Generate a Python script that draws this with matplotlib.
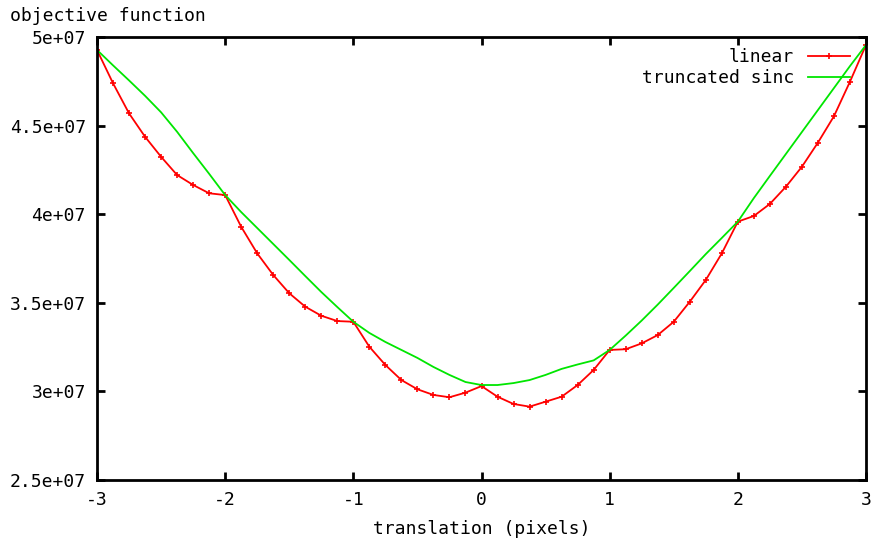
import numpy as np
import matplotlib
matplotlib.use("Agg")
import matplotlib.pyplot as plt

plt.rcParams['font.family'] = 'DejaVu Sans Mono'
plt.rcParams['axes.unicode_minus'] = False

# shift in pixels, step 1/8
shift = np.arange(-3, 3.0001, 0.125)

# objective function, units of 1e7
linear = [4.927, 4.739, 4.569, 4.437, 4.324, 4.221, 4.165, 4.118,
          4.108, 3.929, 3.779, 3.657, 3.554, 3.478, 3.427, 3.397,
          3.393, 3.252, 3.149, 3.064, 3.012, 2.980, 2.967, 2.993,
          3.030, 2.970, 2.929, 2.914, 2.942, 2.970, 3.036, 3.121,
          3.234, 3.238, 3.271, 3.318, 3.393, 3.506, 3.629, 3.779,
          3.958, 3.990, 4.058, 4.155, 4.268, 4.404, 4.553, 4.748,
          4.955]
sinc = [4.927, 4.840, 4.755, 4.668, 4.575, 4.465, 4.345, 4.228,
        4.108, 4.012, 3.922, 3.832, 3.742, 3.651, 3.561, 3.476,
        3.393, 3.330, 3.279, 3.234, 3.189, 3.138, 3.093, 3.053,
        3.036, 3.036, 3.047, 3.064, 3.093, 3.127, 3.152, 3.175,
        3.234, 3.315, 3.400, 3.490, 3.584, 3.679, 3.775, 3.866,
        3.958, 4.091, 4.216, 4.340, 4.464, 4.588, 4.712, 4.836,
        4.955]

linear = np.array(linear) * 1e7
sinc = np.array(sinc) * 1e7

fig = plt.figure(figsize=(8.77, 5.5), dpi=100)
ax = fig.add_axes([97/877, 1 - 480/550, (866 - 97)/877, (480 - 37)/550])

ax.plot(shift, linear, color='#ff0000', lw=1.3, marker='+', ms=5, mew=1.2, label='linear')
ax.plot(shift, sinc, color='#00e600', lw=1.3, label='truncated sinc')

ax.set_xlim(-3, 3)
ax.set_ylim(2.5e7, 5e7)
ax.set_xticks([-3, -2, -1, 0, 1, 2, 3])
ax.set_yticks([2.5e7, 3e7, 3.5e7, 4e7, 4.5e7, 5e7])
ax.set_yticklabels(['2.5e+07', '3e+07', '3.5e+07', '4e+07', '4.5e+07', '5e+07'])

ax.tick_params(direction='in', length=6, width=2, top=True, right=True,
               labelsize=13, pad=8)
for s in ax.spines.values():
    s.set_linewidth(2)

ax.set_xlabel('translation (pixels)', fontsize=13, labelpad=8)
fig.text(10/877, 1 - 16/550, 'objective function', fontsize=13, va='center', ha='left')

ax.legend(loc='upper right', frameon=False, markerfirst=False, fontsize=13,
          handlelength=2.3, borderaxespad=0.2, labelspacing=0.2, numpoints=1,
          bbox_to_anchor=(0.993, 1.0))

fig.savefig('out.png', dpi=100)
